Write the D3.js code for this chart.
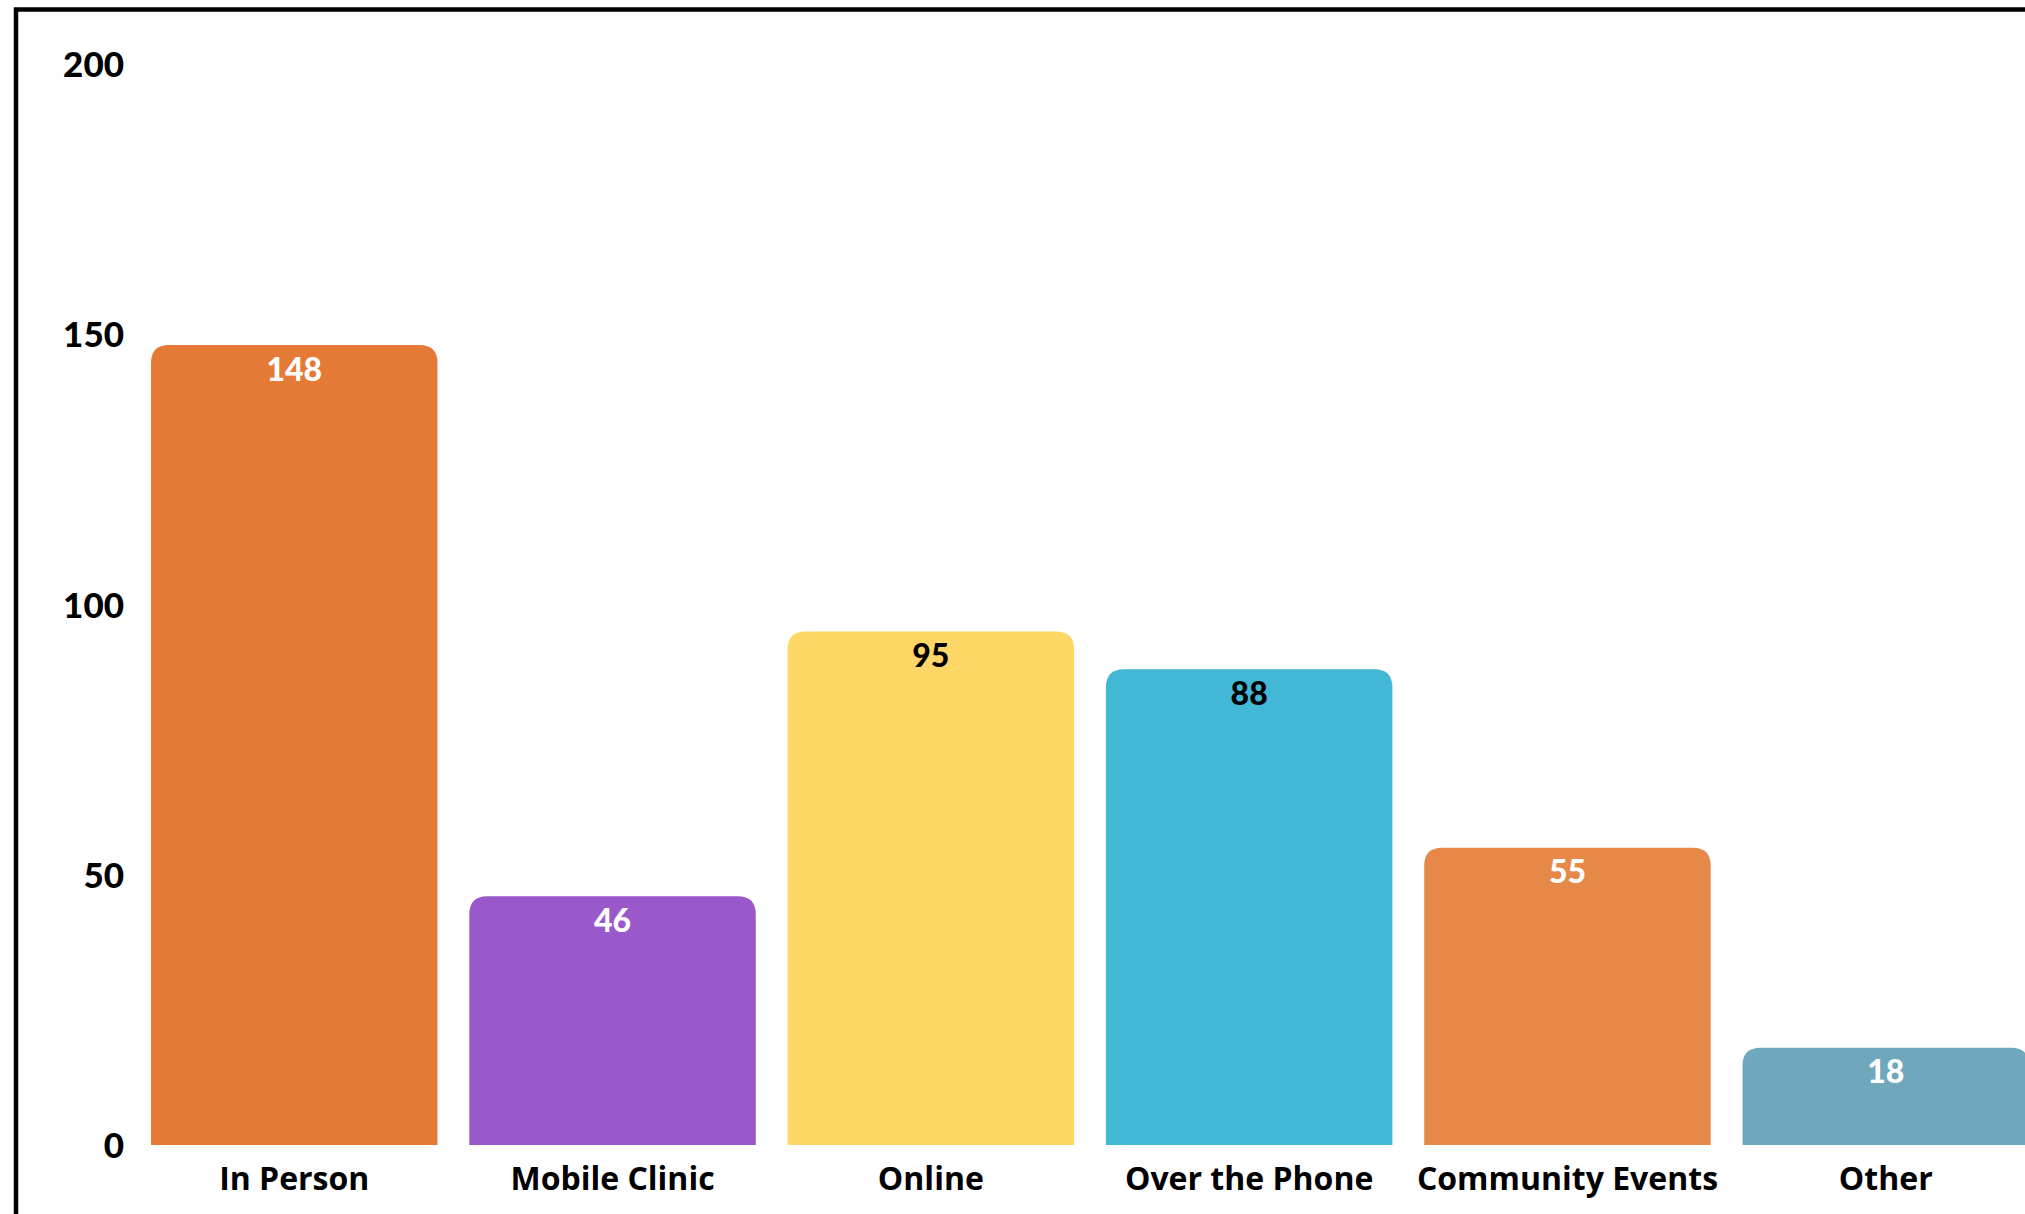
<!DOCTYPE html>
<html>
<head>
<meta charset="utf-8">
<script src="https://cdn.jsdelivr.net/npm/d3@7"></script>
<style>
  html, body { margin: 0; padding: 0; background: #ffffff; }
  svg { display: block; }
  text { font-family: "Lato", "Open Sans", sans-serif; font-weight: 900; }
</style>
</head>
<body>
<svg id="chart" width="2025" height="1214"></svg>
<script>
// Outreach channels and their counts
const categories = ["In Person", "Mobile Clinic", "Online", "Over the Phone", "Community Events", "Other"];
const values = [148, 46, 95, 88, 55, 18];
const barColors = ["#E47A35", "#9A59CB", "#FFD766", "#42B7D6", "#E68847", "#6FA8BD"];
const valueLabelColors = ["#ffffff", "#ffffff", "#000000", "#000000", "#ffffff", "#ffffff"];
const yTicks = [0, 50, 100, 150, 200];

const svg = d3.select("#chart");

const x = d3.scaleBand()
  .domain(categories)
  .range([151, 2029])
  .paddingInner(0.1)
  .paddingOuter(0);

const y = d3.scaleLinear()
  .domain([0, 200])
  .range([1145, 64]);

// Frame along the top and left edges
svg.append("path")
  .attr("d", "M16,1230 L16,9.5 L2040,9.5")
  .attr("fill", "none")
  .attr("stroke", "#000")
  .attr("stroke-width", 4.5);

// Bars with rounded top corners
const r = 18;
function barPath(x0, w, yTop, yBase) {
  const rr = Math.min(r, (yBase - yTop), w / 2);
  return `M${x0},${yBase} L${x0},${yTop + rr} Q${x0},${yTop} ${x0 + rr},${yTop}` +
         ` L${x0 + w - rr},${yTop} Q${x0 + w},${yTop} ${x0 + w},${yTop + rr} L${x0 + w},${yBase} Z`;
}

const data = categories.map((c, i) => ({ cat: c, v: values[i], color: barColors[i], lc: valueLabelColors[i] }));

svg.append("g").selectAll("path")
  .data(data)
  .join("path")
  .attr("d", d => barPath(x(d.cat), x.bandwidth(), y(d.v), y(0)))
  .attr("fill", d => d.color);

// Value labels inside bar tops
svg.append("g").selectAll("text")
  .data(data)
  .join("text")
  .attr("x", d => x(d.cat) + x.bandwidth() / 2)
  .attr("y", d => y(d.v) + 23)
  .attr("text-anchor", "middle")
  .attr("dominant-baseline", "central")
  .attr("font-size", 32)
  .attr("fill", d => d.lc)
  .text(d => d.v);

// Y axis: labels only
const yAxis = svg.append("g")
  .attr("transform", "translate(124,0)")
  .call(d3.axisLeft(y).tickValues(yTicks).tickSize(0).tickPadding(0));
yAxis.select(".domain").remove();
yAxis.selectAll("text")
  .attr("font-size", 35)
  .attr("fill", "#000")
  .attr("dy", "0.36em")
  .style("font-family", "Lato, sans-serif")
  .style("font-weight", 900);

// X axis: category labels only
const xAxis = svg.append("g")
  .attr("transform", "translate(0,1145)")
  .call(d3.axisBottom(x).tickSize(0).tickPadding(0));
xAxis.select(".domain").remove();
xAxis.selectAll("text")
  .attr("y", 33)
  .attr("dy", "0.36em")
  .attr("font-size", 32)
  .attr("fill", "#000")
  .style("font-family", "'Open Sans', sans-serif")
  .style("font-weight", 700);
</script>
</body>
</html>
